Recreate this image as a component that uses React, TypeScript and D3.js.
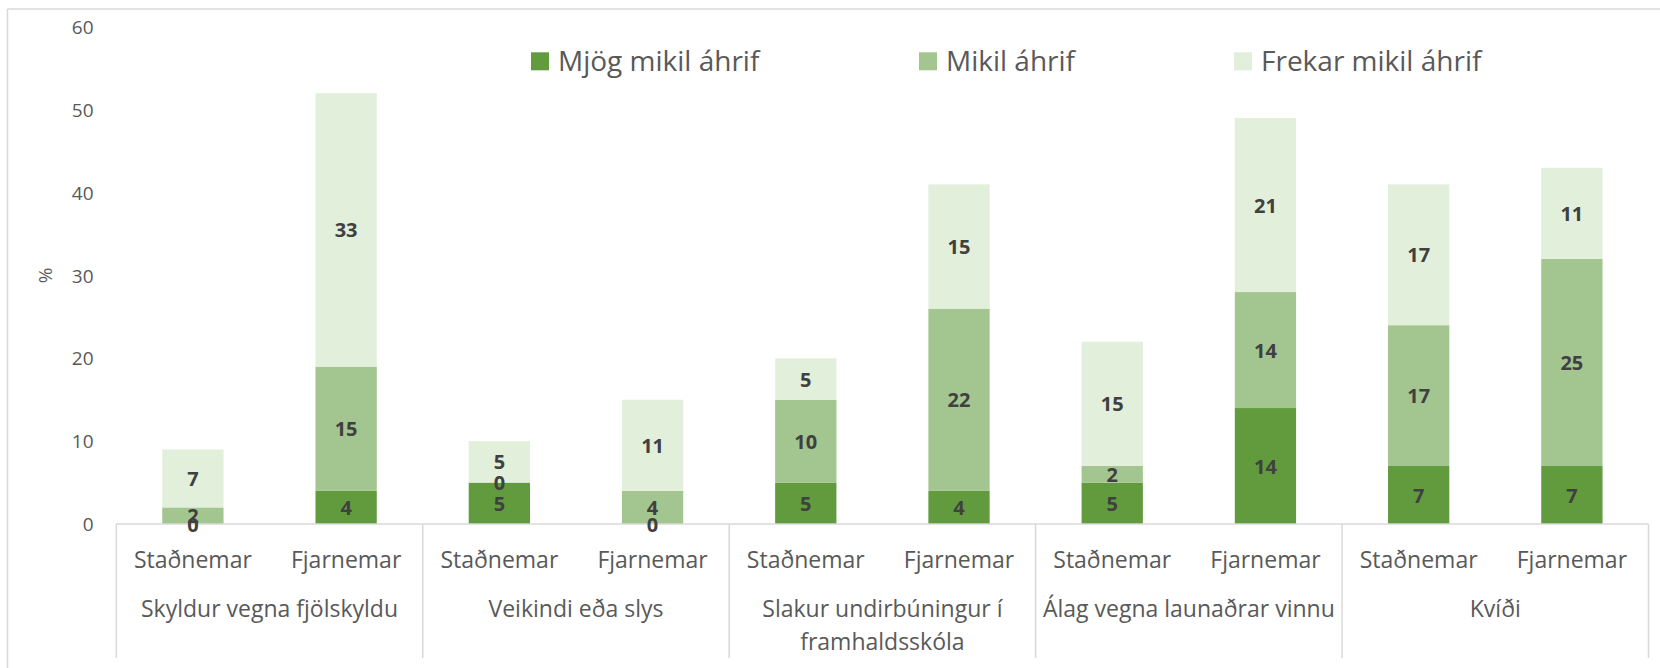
import React from "react";
import * as d3 from "d3";

const groupLabels: string[][] = [
  ["Skyldur vegna fjölskyldu"],
  ["Veikindi eða slys"],
  ["Slakur undirbúningur í", "framhaldsskóla"],
  ["Álag vegna launaðrar vinnu"],
  ["Kvíði"],
];
const subgroups = ["Staðnemar", "Fjarnemar"];
const seriesNames = ["Mjög mikil áhrif", "Mikil áhrif", "Frekar mikil áhrif"];
const mjogMikil = [0, 4, 5, 0, 5, 4, 5, 14, 7, 7];
const mikil = [2, 15, 0, 4, 10, 22, 2, 14, 17, 25];
const frekarMikil = [7, 33, 5, 11, 5, 15, 15, 21, 17, 11];
const yTicks = [0, 10, 20, 30, 40, 50, 60];
const colors = ["#629B3E", "#A3C58F", "#E2EFDA"];

const W = 1660;
const H = 668;
const X0 = 116.3;
const X1 = 1648.5;
const Y0 = 524;
const Y60 = 27;
const FONT = "'Open Sans', 'Noto Sans', sans-serif";
const GRID = "#d9d9d9";

export default function App() {
  const keys = ["a", "b", "c"];
  const rows = mjogMikil.map((_, i) => ({
    id: String(i),
    a: mjogMikil[i],
    b: mikil[i],
    c: frekarMikil[i],
  }));
  const stacked = d3.stack<any>().keys(keys)(rows);

  const x = d3
    .scaleBand<string>()
    .domain(rows.map((r) => r.id))
    .range([X0, X1])
    .paddingInner(0.6)
    .paddingOuter(0.3);
  const y = d3.scaleLinear().domain([0, 60]).range([Y0, Y60]);

  const step = (X1 - X0) / groupLabels.length;
  const legendX = [531, 919, 1234];

  return (
    <svg
      width={W}
      height={H}
      style={{ position: "absolute", left: 0, top: 0, background: "#fff" }}
      fontFamily={FONT}
    >
      <rect x={0} y={0} width={W} height={H} fill="#fff" />
      {/* outer chart border */}
      <line x1={7.5} x2={W} y1={9} y2={9} stroke={GRID} strokeWidth={1.5} />
      <line x1={7.5} x2={7.5} y1={9} y2={H} stroke={GRID} strokeWidth={1.5} />

      {/* y tick labels */}
      {yTicks.map((t) => (
        <text
          key={t}
          x={93.5}
          y={y(t)}
          textAnchor="end"
          dominantBaseline="central"
          fontSize={19}
          fill="#595959"
        >
          {t}
        </text>
      ))}
      <text
        transform={`translate(45,${(Y0 + Y60) / 2}) rotate(-90)`}
        textAnchor="middle"
        dominantBaseline="central"
        fontSize={19}
        fill="#595959"
      >
        %
      </text>

      {/* bars */}
      {stacked.map((layer, li) =>
        layer.map((d, i) => (
          <rect
            key={`${li}-${i}`}
            x={x(rows[i].id)}
            width={x.bandwidth()}
            y={y(d[1])}
            height={y(d[0]) - y(d[1])}
            fill={colors[li]}
          />
        ))
      )}

      {/* axis line & group dividers */}
      <line x1={X0} x2={X1} y1={Y0} y2={Y0} stroke={GRID} strokeWidth={1.5} />
      {d3.range(groupLabels.length + 1).map((g) => (
        <line
          key={g}
          x1={X0 + g * step}
          x2={X0 + g * step}
          y1={Y0}
          y2={658}
          stroke={GRID}
          strokeWidth={1.5}
        />
      ))}

      {/* data labels */}
      {stacked.map((layer, li) =>
        layer.map((d, i) => (
          <text
            key={`l-${li}-${i}`}
            x={(x(rows[i].id) as number) + x.bandwidth() / 2}
            y={y((d[0] + d[1]) / 2)}
            textAnchor="middle"
            dominantBaseline="central"
            fontSize={20}
            fontWeight="bold"
            fill="#404040"
          >
            {d[1] - d[0]}
          </text>
        ))
      )}

      {/* category labels */}
      {rows.map((r, i) => (
        <text
          key={`c-${i}`}
          x={(x(r.id) as number) + x.bandwidth() / 2}
          y={567.5}
          textAnchor="middle"
          fontSize={23}
          fill="#595959"
        >
          {subgroups[i % 2]}
        </text>
      ))}
      {groupLabels.map((lines, g) => (
        <text
          key={`g-${g}`}
          x={X0 + (g + 0.5) * step}
          y={617}
          textAnchor="middle"
          fontSize={23}
          fill="#595959"
        >
          {lines.map((ln, k) => (
            <tspan key={k} x={X0 + (g + 0.5) * step} dy={k === 0 ? 0 : 32.5}>
              {ln}
            </tspan>
          ))}
        </text>
      ))}

      {/* legend */}
      {seriesNames.map((s, i) => (
        <g key={s}>
          <rect x={legendX[i]} y={52.3} width={18} height={18} fill={colors[i]} />
          <text x={legendX[i] + 27} y={70.5} fontSize={28} fill="#595959">
            {s}
          </text>
        </g>
      ))}
    </svg>
  );
}
